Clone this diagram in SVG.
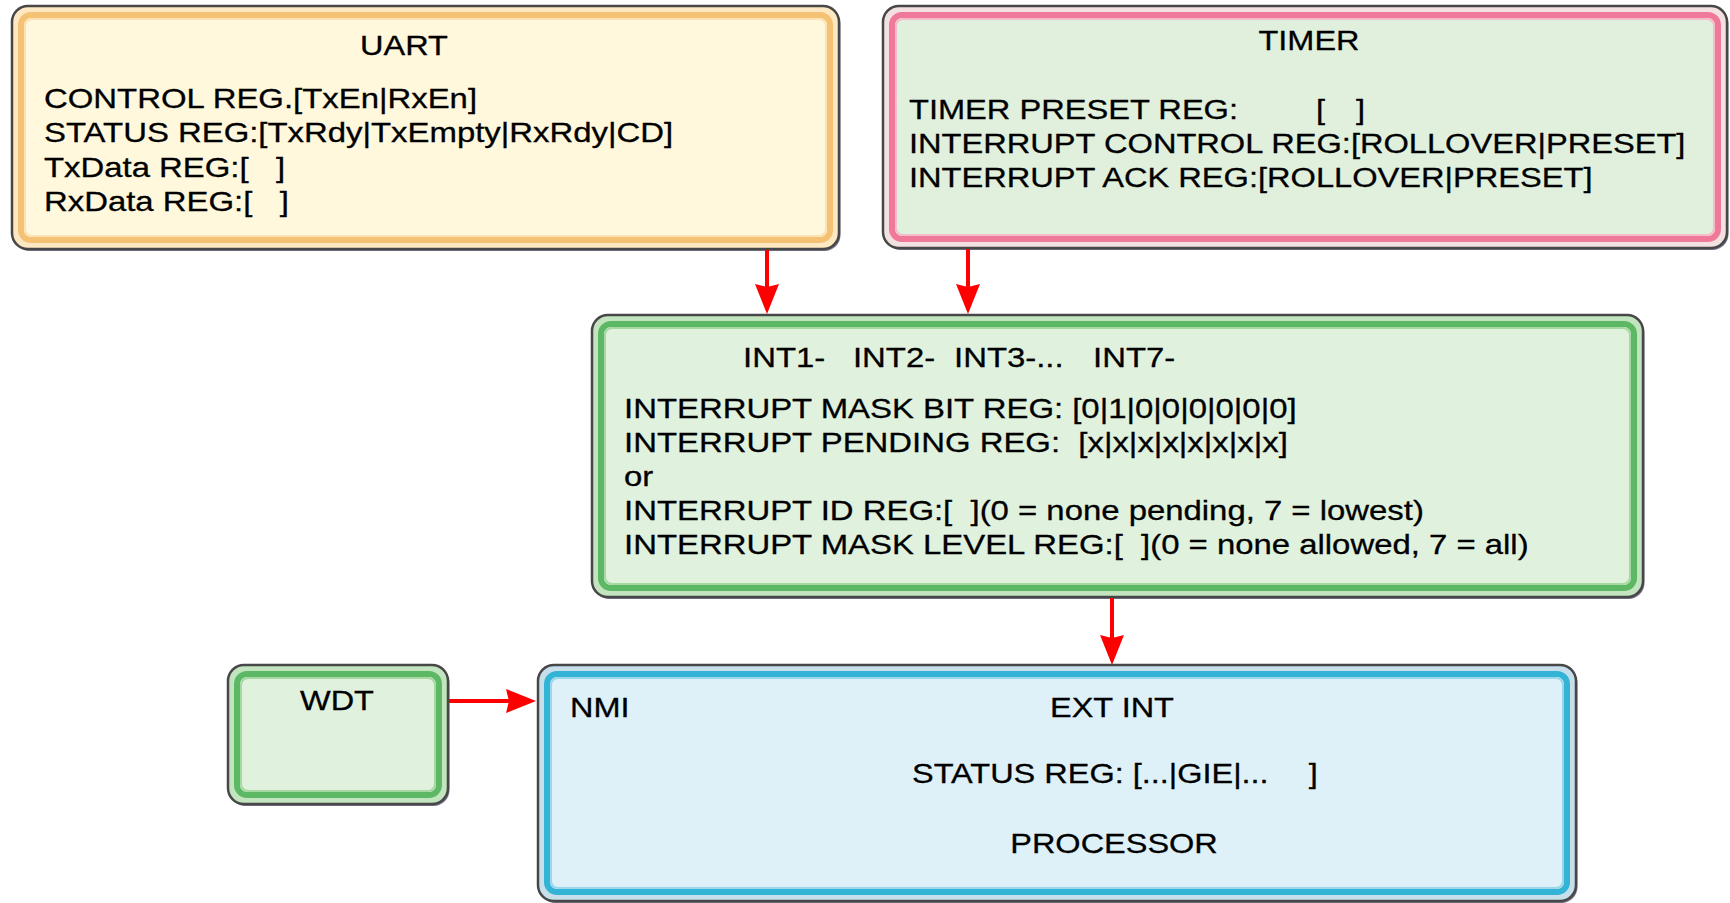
<svg xmlns="http://www.w3.org/2000/svg" width="1730" height="903" viewBox="0 0 1730 903">
  <defs>
    <!-- red arrowhead; tip sits 20px past the end of the line -->
    <marker id="arrow" markerUnits="userSpaceOnUse" viewBox="0 0 30 24" markerWidth="30" markerHeight="24" refX="10" refY="12" orient="auto">
      <path d="M0,0 L30,12 L0,24 L3,12 Z" fill="#ff0000"/>
    </marker>
  </defs>
  <style>
    .txt{font-family:"Liberation Sans",Arial,sans-serif;font-size:28px;fill:#000;stroke:#000;stroke-width:0.3;white-space:pre}
    .mid{text-anchor:middle}
    .shadow{fill:#74748c}
    .frame{stroke:#474747;stroke-width:2.5}
    .band{stroke-width:6}
    .hl{fill:none;stroke-width:2}
    .orange .frame{fill:#fde8c2}
    .orange .band{fill:#fff8dc;stroke:#f5c175}
    .orange .hl{stroke:#fde3b4}
    .pink .frame{fill:#f3e0e0}
    .pink .band{fill:#e0f0dd;stroke:#f07898}
    .pink .hl{stroke:#f5bccb}
    .green .frame{fill:#c2e4be}
    .green .band{fill:#e0f1de;stroke:#5cb865}
    .green .hl{stroke:#a6d8a2}
    .blue .frame{fill:#c6dfeb}
    .blue .band{fill:#dff1f8;stroke:#33b3d5}
    .blue .hl{stroke:#9ad7ea}
    .conn{fill:none;stroke:#ff0000;stroke-width:4;marker-end:url(#arrow)}
  </style>

  <rect width="1730" height="903" fill="#ffffff"/>

  <!-- UART -->
  <g id="uart" class="orange">
    <rect class="shadow" x="13.5" y="8" width="827" height="243" rx="16"/>
    <rect class="frame" x="12" y="6" width="827" height="243" rx="16"/>
    <rect class="band" x="21" y="15" width="809" height="225" rx="10"/>
    <rect class="hl" x="25" y="19" width="801" height="217" rx="7"/>
    <text class="txt mid" transform="translate(404 55) scale(1.16 1)">UART</text>
    <text class="txt" transform="translate(44 108) scale(1.175 1)"><tspan x="0">CONTROL REG.[TxEn|RxEn]</tspan><tspan x="0" dy="34.5">STATUS REG:[TxRdy|TxEmpty|RxRdy|CD]</tspan><tspan x="0" dy="34.5">TxData REG:[   ]</tspan><tspan x="0" dy="34.5">RxData REG:[   ]</tspan></text>
  </g>

  <!-- TIMER -->
  <g id="timer" class="pink">
    <rect class="shadow" x="884.5" y="8" width="844" height="242" rx="16"/>
    <rect class="frame" x="883" y="6" width="844" height="242" rx="16"/>
    <rect class="band" x="892" y="15" width="826" height="224" rx="10"/>
    <rect class="hl" x="896" y="19" width="818" height="216" rx="7"/>
    <text class="txt mid" transform="translate(1309 50) scale(1.16 1)">TIMER</text>
    <text class="txt" transform="translate(909 119) scale(1.165 1)"><tspan x="0">TIMER PRESET REG:</tspan><tspan x="349.4">[</tspan><tspan x="383.7">]</tspan><tspan x="0" dy="34">INTERRUPT CONTROL REG:[ROLLOVER|PRESET]</tspan><tspan x="0" dy="34">INTERRUPT ACK REG:[ROLLOVER|PRESET]</tspan></text>
  </g>

  <!-- interrupt controller -->
  <g id="intctl" class="green">
    <rect class="shadow" x="593.5" y="317" width="1051" height="282" rx="16"/>
    <rect class="frame" x="592" y="315" width="1051" height="282" rx="16"/>
    <rect class="band" x="601" y="324" width="1033" height="264" rx="10"/>
    <rect class="hl" x="605" y="328" width="1025" height="256" rx="7"/>
    <text class="txt" transform="translate(743 367) scale(1.175 1)"><tspan x="0">INT1-</tspan><tspan x="93.6">INT2-</tspan><tspan x="179.6">INT3-...</tspan><tspan x="297.9">INT7-</tspan></text>
    <text class="txt" transform="translate(624 418) scale(1.175 1)"><tspan x="0">INTERRUPT MASK BIT REG: [0|1|0|0|0|0|0|0]</tspan><tspan x="0" dy="34">INTERRUPT PENDING REG:  [x|x|x|x|x|x|x|x]</tspan><tspan x="0" dy="34">or</tspan><tspan x="0" dy="34">INTERRUPT ID REG:[  ](0 = none pending, 7 = lowest)</tspan><tspan x="0" dy="34">INTERRUPT MASK LEVEL REG:[  ](0 = none allowed, 7 = all)</tspan></text>
  </g>

  <!-- watchdog timer -->
  <g id="wdt" class="green">
    <rect class="shadow" x="229.5" y="667" width="220" height="139" rx="16"/>
    <rect class="frame" x="228" y="665" width="220" height="139" rx="16"/>
    <rect class="band" x="237" y="674" width="202" height="121" rx="10"/>
    <rect class="hl" x="241" y="678" width="194" height="113" rx="7"/>
    <text class="txt mid" transform="translate(337 710) scale(1.16 1)">WDT</text>
  </g>

  <!-- processor -->
  <g id="processor" class="blue">
    <rect class="shadow" x="539.5" y="667" width="1038" height="236" rx="16"/>
    <rect class="frame" x="538" y="665" width="1038" height="236" rx="16"/>
    <rect class="band" x="547" y="674" width="1020" height="218" rx="10"/>
    <rect class="hl" x="551" y="678" width="1012" height="210" rx="7"/>
    <text class="txt" transform="translate(570 717) scale(1.16 1)">NMI</text>
    <text class="txt mid" transform="translate(1112 717) scale(1.16 1)">EXT INT</text>
    <text class="txt" transform="translate(912 783) scale(1.16 1)"><tspan x="0">STATUS REG: [...|GIE|...</tspan><tspan x="342">]</tspan></text>
    <text class="txt mid" transform="translate(1114 853) scale(1.16 1)">PROCESSOR</text>
  </g>

  <!-- connectors -->
  <g id="connectors">
    <path class="conn" d="M767,250 V294"/>
    <path class="conn" d="M968,249 V294"/>
    <path class="conn" d="M1112,598 V645"/>
    <path class="conn" d="M449,701 H516"/>
  </g>
</svg>
